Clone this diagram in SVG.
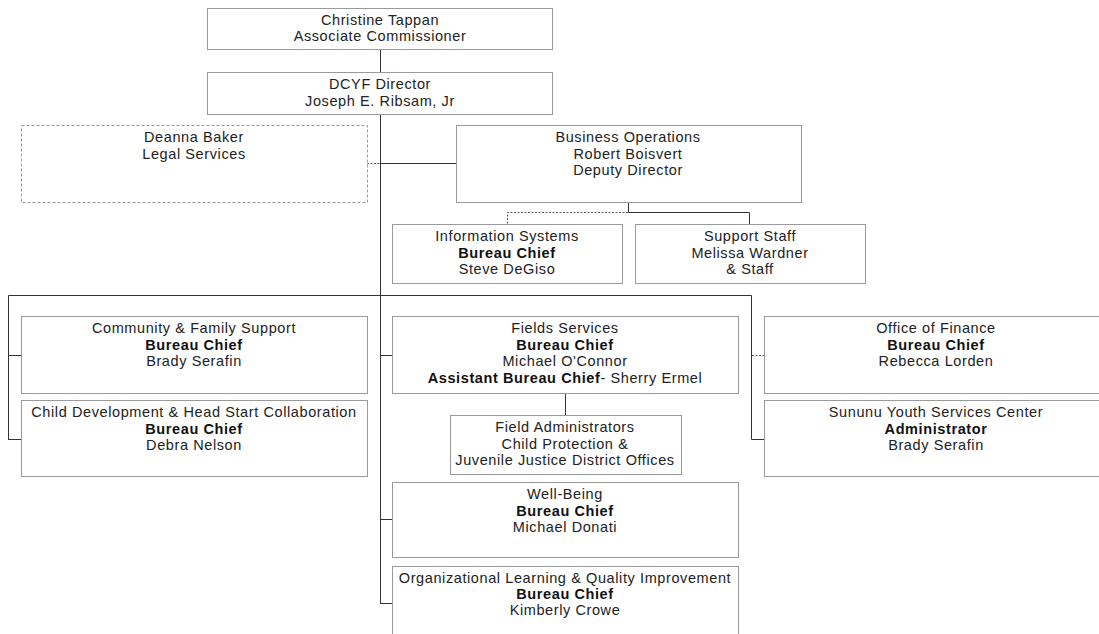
<svg xmlns="http://www.w3.org/2000/svg" width="1099" height="634" viewBox="0 0 1099 634">
<style>
.box{fill:#fff;stroke:#9a9a9a;stroke-width:1}
.dbox{fill:#fff;stroke:#9a9a9a;stroke-width:1;stroke-dasharray:3 2}
.ln{fill:none;stroke:#333;stroke-width:1}
.dl{fill:none;stroke:#555;stroke-width:1;stroke-dasharray:2 1.5}
text{font-family:"Liberation Sans",Arial,sans-serif;font-size:14.5px;letter-spacing:0.6px;fill:#222;text-anchor:middle}
.b{font-weight:bold;fill:#111}
</style>
<rect width="1099" height="634" fill="#fff"/>
<g id="connectors">
<path class="ln" d="M380.5 49V72M380.5 114V603.5"/>
<path class="ln" d="M380 163.5H456"/>
<path class="dl" d="M367 163.5H380"/>
<path class="ln" d="M628.5 202V212.5H749.5V224"/>
<path class="dl" d="M628 212.5H507.5V224"/>
<path class="ln" d="M8.5 439.5V295.5H751.5V439.5H764"/>
<path class="ln" d="M8 355.5H21M8 439.5H21"/>
<path class="ln" d="M380 355.5H392M380 519.5H392M380 603.5H392"/>
<path class="dl" d="M752 355.5H764"/>
<path class="ln" d="M565.5 393V415"/>
</g>
<g id="n-tappan"><rect class="box" x="207.5" y="8.5" width="345" height="41"/><text x="380" y="25">Christine Tappan</text><text x="380" y="41">Associate Commissioner</text></g>
<g id="n-director"><rect class="box" x="207.5" y="72.5" width="345" height="42"/><text x="380" y="89">DCYF Director</text><text x="380" y="106">Joseph E. Ribsam, Jr</text></g>
<g id="n-legal"><rect class="dbox" x="21.5" y="125.5" width="346" height="77"/><text x="194" y="142">Deanna Baker</text><text x="194" y="159">Legal Services</text></g>
<g id="n-business"><rect class="box" x="456.5" y="125.5" width="345" height="77"/><text x="628" y="142">Business Operations</text><text x="628" y="159">Robert Boisvert</text><text x="628" y="175">Deputy Director</text></g>
<g id="n-infosys"><rect class="box" x="392.5" y="224.5" width="230" height="59"/><text x="507" y="241">Information Systems</text><text class="b" x="507" y="258">Bureau Chief</text><text x="507" y="274">Steve DeGiso</text></g>
<g id="n-support"><rect class="box" x="635.5" y="224.5" width="230" height="59"/><text x="750" y="241">Support Staff</text><text x="750" y="258">Melissa Wardner</text><text x="750" y="274">&amp; Staff</text></g>
<g id="n-community"><rect class="box" x="21.5" y="316.5" width="346" height="77"/><text x="194" y="333">Community &amp; Family Support</text><text class="b" x="194" y="350">Bureau Chief</text><text x="194" y="366">Brady Serafin</text></g>
<g id="n-childdev"><rect class="box" x="21.5" y="400.5" width="346" height="76"/><text x="194" y="417">Child Development &amp; Head Start Collaboration</text><text class="b" x="194" y="434">Bureau Chief</text><text x="194" y="450">Debra Nelson</text></g>
<g id="n-fields"><rect class="box" x="392.5" y="316.5" width="346" height="77"/><text x="565" y="333">Fields Services</text><text class="b" x="565" y="350">Bureau Chief</text><text x="565" y="366">Michael O'Connor</text><text x="565" y="383"><tspan class="b">Assistant Bureau Chief</tspan>- Sherry Ermel</text></g>
<g id="n-fieldadmin"><rect class="box" x="450.5" y="415.5" width="231" height="59"/><text x="565" y="432">Field Administrators</text><text x="565" y="449">Child Protection &amp;</text><text x="565" y="465">Juvenile Justice District Offices</text></g>
<g id="n-finance"><rect class="box" x="764.5" y="316.5" width="345" height="77"/><text x="936" y="333">Office of Finance</text><text class="b" x="936" y="350">Bureau Chief</text><text x="936" y="366">Rebecca Lorden</text></g>
<g id="n-sununu"><rect class="box" x="764.5" y="400.5" width="345" height="76"/><text x="936" y="417">Sununu Youth Services Center</text><text class="b" x="936" y="434">Administrator</text><text x="936" y="450">Brady Serafin</text></g>
<g id="n-wellbeing"><rect class="box" x="392.5" y="482.5" width="346" height="75"/><text x="565" y="499">Well-Being</text><text class="b" x="565" y="516">Bureau Chief</text><text x="565" y="532">Michael Donati</text></g>
<g id="n-orglearning"><rect class="box" x="392.5" y="566.5" width="346" height="75"/><text x="565" y="583">Organizational Learning &amp; Quality Improvement</text><text class="b" x="565" y="599">Bureau Chief</text><text x="565" y="615">Kimberly Crowe</text></g>
</svg>
